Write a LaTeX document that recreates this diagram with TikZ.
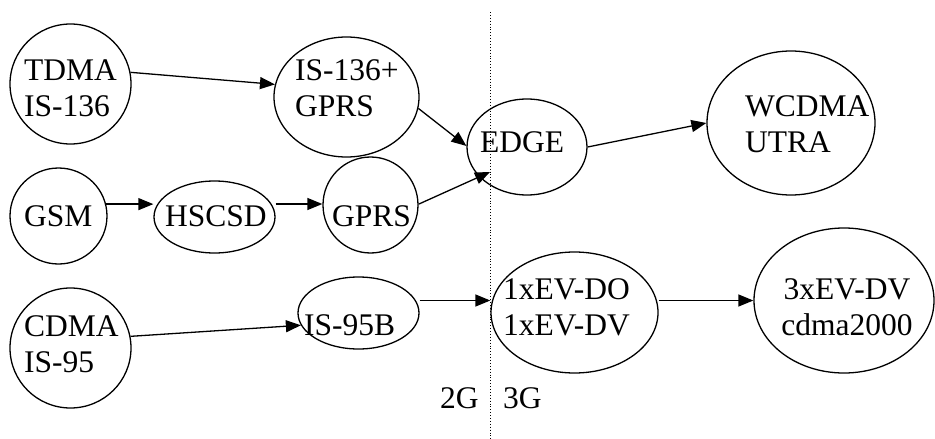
\documentclass[tikz,border=0pt]{standalone}
\usepackage{fontspec}
\setmainfont{Liberation Serif}
\usetikzlibrary{positioning, shapes.geometric, arrows.meta}

\begin{document}
\begin{tikzpicture}[
  x=1pt, y=-1pt,
  tech/.style={ellipse, draw, line width=1.3pt, inner sep=0pt},
  lbl/.style={anchor=base west, align=left, inner sep=0pt,
              font=\fontsize{31.5}{36}\selectfont},
  line/.style={draw, line width=1.3pt, -{Triangle[length=15pt, width=12pt]}}
]
\useasboundingbox (0,0) rectangle (935,439);
% Nodes
\node[tech, minimum width=121pt, minimum height=120pt] (tdma) at (70.5,84) {};
\node[tech, minimum width=145pt, minimum height=120pt] (is136) at (346.5,97) {};
\node[tech, minimum width=97pt, minimum height=96pt] (gsm) at (58.5,216) {};
\node[tech, minimum width=121pt, minimum height=72pt] (hscsd) at (214.5,217) {};
\node[tech, minimum width=95pt, minimum height=96pt] (gprs) at (370.5,205) {};
\node[tech, minimum width=120pt, minimum height=96pt] (edge) at (527,147) {};
\node[tech, minimum width=168pt, minimum height=144pt] (wcdma) at (791,123) {};
\node[tech, minimum width=121pt, minimum height=120pt] (cdma) at (70.5,348) {};
\node[tech, minimum width=121pt, minimum height=72pt] (is95b) at (358.5,313) {};
\node[tech, minimum width=167pt, minimum height=121pt] (ev1) at (574.5,312.5) {};
\node[tech, minimum width=180pt, minimum height=145pt] (ev3) at (844,300.5) {};
% Labels (base = last line)
\node[lbl] (tdma-t) at (24,116) {TDMA\\IS-136};
\node[lbl] (is136-t) at (295,116) {IS-136+\\GPRS};
\node[lbl] (gsm-t) at (24,226) {GSM};
\node[lbl] (hscsd-t) at (165,226) {HSCSD};
\node[lbl] (gprs-t) at (332,226) {GPRS};
\node[lbl] (edge-t) at (480,152) {EDGE};
\node[lbl] (wcdma-t) at (745,152) {WCDMA\\UTRA};
\node[lbl] (cdma-t) at (24,372) {CDMA\\IS-95};
\node[lbl] (is95b-t) at (304,335) {IS-95B};
\node[lbl] (ev1-t) at (503,335) {1xEV-DO\\1xEV-DV};
\node[lbl, anchor=base, align=center] (ev3-t) at (847,335) {3xEV-DV\\cdma2000};
\node[lbl] (g2) at (440,408) {2G};
\node[lbl] (g3) at (503,408) {3G};
% Divider
\coordinate (top) at (490.7,12);
\coordinate (bot) at (490.7,439);
\draw[dotted, line width=0.9pt] (top) -- (bot);
% Edges
\path[line] (tdma.11) -- (is136.170);
\path[line] (is136.-9) -- (edge.179);
\path[line] (gsm.14) -- (gsm.14 -| hscsd.west);
\path[line] ([yshift=13pt]hscsd.east) -- ([yshift=13pt]hscsd.east -| gprs.west);
\path[line] (gprs.1) -- ([shift={(-37,25)}]edge.center);
\path[line] (edge.east) -- (wcdma.west);
\path[line] (cdma.11) -- (is95b.192);
\path[line] ([yshift=12pt]ev1.west -| is95b.east) -- ([yshift=12pt]ev1.west);
\path[line] (ev3.west -| ev1.east) -- (ev3.west);
\end{tikzpicture}
\end{document}
